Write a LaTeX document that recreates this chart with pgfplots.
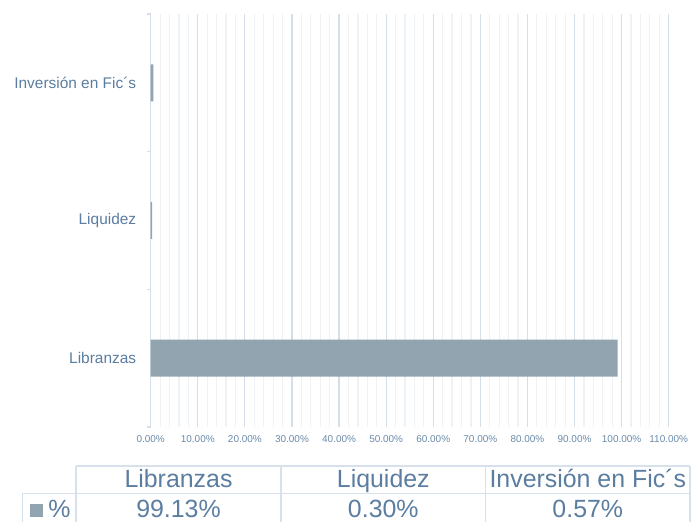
\documentclass[border=0pt]{standalone}
\usepackage{fontspec}
\setmainfont{Liberation Sans}
\usepackage{pgfplots}
\pgfplotsset{compat=1.18}
\definecolor{txt}{HTML}{5B7DA0}
\definecolor{ticktxt}{HTML}{6A8AAA}
\definecolor{barc}{HTML}{91A4B0}
\definecolor{majg}{HTML}{D5DFE9}
\definecolor{ming}{HTML}{EEF2F6}
\definecolor{tbl}{HTML}{D6E1EC}
\begin{document}
\begin{tikzpicture}[x=1bp,y=1bp]
\useasboundingbox (0,0) rectangle (691,522);
\begin{axis}[
  at={(150.7bp,95bp)}, anchor=south west, scale only axis,
  width=518bp, height=413bp,
  xmin=0, xmax=110, ymin=-0.5, ymax=2.5,
  xbar, bar width=37bp, bar shift=0pt,
  axis x line*=bottom, axis y line*=left,
  x axis line style={draw=none},
  y axis line style={draw=majg, line width=1.2bp, -},
  xtick={0,10,...,110}, minor x tick num=4,
  xmajorgrids, xminorgrids,
  major grid style={draw=majg, line width=1.2bp},
  minor grid style={draw=ming, line width=1.2bp},
  tick align=outside, major tick length=4bp,
  tick style={draw=majg, line width=1.2bp},
  every x tick/.append style={draw=none},
  xticklabel={\pgfmathprintnumber[fixed,fixed zerofill,precision=2,assume math mode=true]{\tick}\%},
  xticklabel style={font=\fontsize{10}{12}\selectfont, text=ticktxt, yshift=-1bp},
  ytick={-0.5,0.5,1.5,2.5}, yticklabels={},
  extra y ticks={0,1,2},
  extra y tick labels={Libranzas,Liquidez,Inversión en Fic´s},
  extra y tick style={major tick length=0pt, tick style={draw=none},
    yticklabel style={font=\fontsize{15.5}{18}\selectfont, text=txt, xshift=-11bp}},
]
\addplot[fill=barc, draw=none] coordinates {(99.13,0) (0.30,1) (0.57,2)};
\end{axis}
% data table below the chart
\draw[tbl, line width=1.3bp] (76,56) -- (690,56);
\draw[tbl, line width=1.3bp] (22.7,28.7) -- (690,28.7);
\draw[tbl, line width=1.3bp] (76,56) -- (76,0);
\draw[tbl, line width=1.3bp] (281,56) -- (281,0);
\draw[tbl, line width=1.3bp] (485.7,56) -- (485.7,0);
\draw[tbl, line width=1.3bp] (690,56) -- (690,0);
\draw[tbl, line width=1.3bp] (22.7,28.7) -- (22.7,0);
\begin{scope}[every node/.style={anchor=base, text=txt, inner sep=0, text depth=0pt, font=\fontsize{25}{25}\selectfont}]
\node at (178.5,34.7) {Libranzas};
\node at (383.3,34.7) {Liquidez};
\node at (587.8,34.7) {Inversión en Fic´s};
\node at (178.5,4) {99.13\%};
\node at (383.3,4) {0.30\%};
\node at (587.8,4) {0.57\%};
\node[anchor=base west] at (48.3,4) {\%};
\end{scope}
\fill[barc] (30,5.3) rectangle (42.7,18);
\end{tikzpicture}
\end{document}
